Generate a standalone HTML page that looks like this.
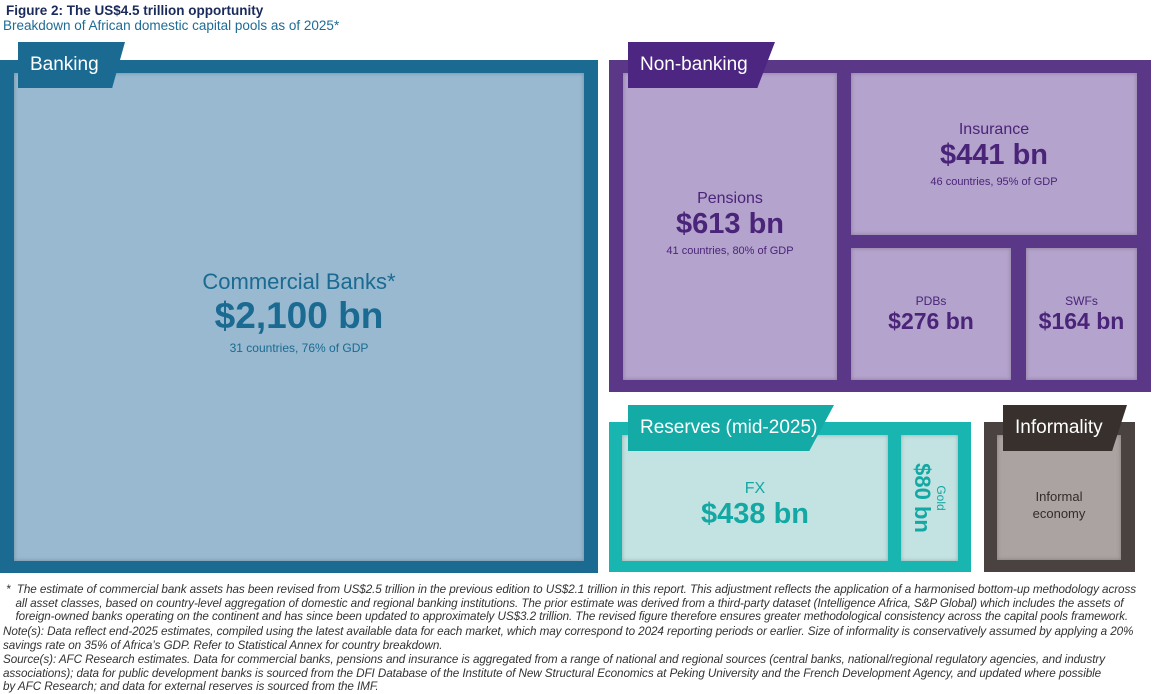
<!DOCTYPE html>
<html><head><meta charset="utf-8"><style>
body{margin:0;width:1160px;height:692px;background:#fff;font-family:"Liberation Sans",sans-serif;position:relative;overflow:hidden}
.a{position:absolute}
.in{position:absolute;box-shadow:inset 0 0 4px rgba(0,0,0,.25);text-align:center;display:flex;flex-direction:column;justify-content:center;align-items:center}
.tab{position:absolute;color:#fff;font-size:19px;padding-left:12px;line-height:46px;box-shadow:-4px 4px 6px rgba(0,0,0,.35);clip-path:polygon(0 0,100% 0,88% 100%,0 100%)}
.fn{position:absolute;left:6px;font-size:11.7px;font-style:italic;color:#333;line-height:13.5px;letter-spacing:-0.08px;white-space:nowrap}
</style></head><body>
<div class="a" style="left:6px;top:3px;font-size:13.5px;font-weight:bold;color:#1a2a5a">Figure 2: The US$4.5 trillion opportunity</div>
<div class="a" style="left:3px;top:18px;font-size:13.5px;color:#1e6b96">Breakdown of African domestic capital pools as of 2025*</div>

<div class="a" style="left:0;top:60px;width:598px;height:513px;background:#1a6a92"></div>
<div class="in" style="left:14px;top:73px;width:570px;height:488px;background:#98b9d0;color:#1a6a92">
<div style="font-size:22px;margin-top:-10px">Commercial Banks*</div>
<div style="font-size:37px;font-weight:bold">$2,100 bn</div>
<div style="font-size:12px;margin-top:4px">31 countries, 76% of GDP</div></div>
<div class="tab" style="left:18px;top:42px;width:95px;background:#1a6a92">Banking</div>

<div class="a" style="left:609px;top:60px;width:542px;height:332px;background:#5b3788"></div>
<div class="in" style="left:623px;top:73px;width:214px;height:307px;background:#b4a3cd;color:#4a2478">
<div style="font-size:16px;margin-top:-6px">Pensions</div><div style="font-size:29px;font-weight:bold">$613 bn</div><div style="font-size:11px;margin-top:4px">41 countries, 80% of GDP</div></div>
<div class="in" style="left:851px;top:73px;width:286px;height:162px;background:#b4a3cd;color:#4a2478">
<div style="font-size:16px">Insurance</div><div style="font-size:29px;font-weight:bold">$441 bn</div><div style="font-size:11px;margin-top:4px">46 countries, 95% of GDP</div></div>
<div class="in" style="left:851px;top:248px;width:160px;height:132px;background:#b4a3cd;color:#4a2478">
<div style="font-size:12px">PDBs</div><div style="font-size:23px;font-weight:bold">$276 bn</div></div>
<div class="in" style="left:1026px;top:248px;width:111px;height:132px;background:#b4a3cd;color:#4a2478">
<div style="font-size:12px">SWFs</div><div style="font-size:23px;font-weight:bold">$164 bn</div></div>
<div class="tab" style="left:628px;top:42px;width:135px;background:#4c2680">Non-banking</div>

<div class="a" style="left:609px;top:422px;width:362px;height:150px;background:#19b5b0"></div>
<div class="in" style="left:622px;top:435px;width:266px;height:126px;background:#c3e3e2;color:#14a8a4">
<div style="font-size:16px;margin-top:14px">FX</div><div style="font-size:29px;font-weight:bold">$438 bn</div></div>
<div class="in" style="left:901px;top:435px;width:57px;height:126px;background:#c3e3e2;color:#14a8a4">
<div style="transform:rotate(90deg);white-space:nowrap;display:flex;flex-direction:column;align-items:center;line-height:22px"><span style="font-size:12px;line-height:16px">Gold</span><span style="font-size:22px;font-weight:bold">$80 bn</span></div></div>
<div class="tab" style="left:628px;top:405px;width:194px;background:#14aaa6">Reserves (mid-2025)</div>

<div class="a" style="left:984px;top:422px;width:151px;height:150px;background:#4a4240"></div>
<div class="in" style="left:997px;top:435px;width:124px;height:125px;background:#aba3a1;color:#332c2a">
<div style="font-size:13px;line-height:17px;margin-top:14px">Informal<br>economy</div></div>
<div class="tab" style="left:1003px;top:405px;width:112px;background:#38302d">Informality</div>

<div class="fn" style="top:583px">*&nbsp; The estimate of commercial bank assets has been revised from US$2.5 trillion in the previous edition to US$2.1 trillion in this report. This adjustment reflects the application of a harmonised bottom-up methodology across<br>&nbsp;&nbsp;&nbsp;all asset classes, based on country-level aggregation of domestic and regional banking institutions. The prior estimate was derived from a third-party dataset (Intelligence Africa, S&amp;P Global) which includes the assets of<br>&nbsp;&nbsp;&nbsp;foreign-owned banks operating on the continent and has since been updated to approximately US$3.2 trillion. The revised figure therefore ensures greater methodological consistency across the capital pools framework.</div>
<div class="fn" style="top:625px;left:3px">Note(s): Data reflect end-2025 estimates, compiled using the latest available data for each market, which may correspond to 2024 reporting periods or earlier. Size of informality is conservatively assumed by applying a 20%<br>savings rate on 35% of Africa’s GDP. Refer to Statistical Annex for country breakdown.</div>
<div class="fn" style="top:653px;left:3px">Source(s): AFC Research estimates. Data for commercial banks, pensions and insurance is aggregated from a range of national and regional sources (central banks, national/regional regulatory agencies, and industry<br>associations); data for public development banks is sourced from the DFI Database of the Institute of New Structural Economics at Peking University and the French Development Agency, and updated where possible<br>by AFC Research; and data for external reserves is sourced from the IMF.</div>
</body></html>
